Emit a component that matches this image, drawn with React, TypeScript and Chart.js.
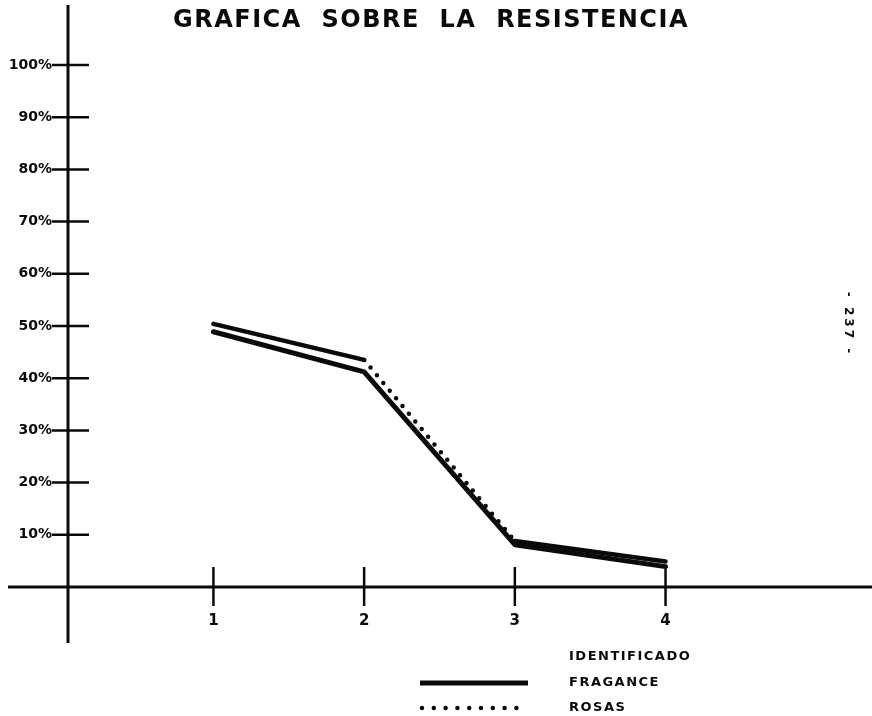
import React, { useEffect, useRef } from 'react';
import { Chart, registerables } from 'chart.js';

Chart.register(...registerables);

const TITLE = 'GRAFICA  SOBRE  LA  RESISTENCIA';
const CATEGORIES = [1, 2, 3, 4];
const Y_TICKS = [10, 20, 30, 40, 50, 60, 70, 80, 90, 100];
const FRAGANCE = [48.9, 41.2, 8.1, 3.9];
const ROSAS = [50.4, 43.5, 8.8, 4.9];
const SERIES_NAMES = ['FRAGANCE', 'ROSAS'];
const LEGEND_TITLE = 'IDENTIFICADO';
const PAGE_NOTE = '- 237 -';

const FONT = "'DejaVu Sans', sans-serif";
const INK = '#0a0a0a';

const decorPlugin = {
  id: 'decor',
  beforeDatasetsDraw(chart: any) {
    const { ctx, chartArea, scales, width } = chart;
    const xs = scales.x;
    const ys = scales.y;
    const x0 = chartArea.left;
    const y0 = ys.getPixelForValue(0);
    ctx.save();
    ctx.strokeStyle = INK;
    ctx.lineCap = 'butt';
    // axes (extended beyond chart area, like the hand drawing)
    ctx.lineWidth = 3;
    ctx.beginPath();
    ctx.moveTo(x0, 5);
    ctx.lineTo(x0, 643);
    ctx.moveTo(8, y0);
    ctx.lineTo(width, y0);
    ctx.stroke();
    // y tick marks crossing the axis
    ctx.lineWidth = 2.5;
    ctx.beginPath();
    Y_TICKS.forEach((v) => {
      const py = ys.getPixelForValue(v);
      ctx.moveTo(x0 - 16, py);
      ctx.lineTo(x0 + 21, py);
    });
    // x tick marks crossing the axis
    CATEGORIES.forEach((c) => {
      const px = xs.getPixelForValue(c);
      ctx.moveTo(px, y0 - 20);
      ctx.lineTo(px, y0 + 19);
    });
    ctx.stroke();
    ctx.restore();
  },
  afterDraw(chart: any) {
    const { ctx } = chart;
    ctx.save();
    ctx.fillStyle = INK;
    // title
    ctx.font = `bold 24px ${FONT}`;
    (ctx as any).letterSpacing = '1.5px';
    ctx.textAlign = 'center';
    ctx.textBaseline = 'middle';
    ctx.fillText(TITLE, 431, 21);

    // legend
    (ctx as any).letterSpacing = '1.5px';
    ctx.font = `bold 13px ${FONT}`;
    ctx.textAlign = 'left';
    ctx.fillText(LEGEND_TITLE, 569, 657);
    const rows = [683, 708];
    chart.data.datasets.forEach((ds: any, i: number) => {
      const y = rows[i];
      ctx.save();
      ctx.strokeStyle = ds.borderColor;
      ctx.lineWidth = i === 0 ? 5 : 4.5;
      ctx.lineCap = i === 0 ? 'butt' : 'round';
      ctx.setLineDash(i === 0 ? [] : [0, 11.8]);
      ctx.beginPath();
      ctx.moveTo(i === 0 ? 420 : 422, y);
      ctx.lineTo(528, y);
      ctx.stroke();
      ctx.restore();
      ctx.fillText(ds.label, 569, y);
    });

    // page number, written sideways
    ctx.translate(848, 324);
    ctx.rotate(Math.PI / 2);
    ctx.font = `bold 12px ${FONT}`;
    (ctx as any).letterSpacing = '3px';
    ctx.textAlign = 'center';
    ctx.fillText(PAGE_NOTE, 0, 0);
    ctx.restore();
  },
};

export default function App() {
  const ref = useRef<HTMLCanvasElement | null>(null);

  useEffect(() => {
    if (!ref.current) return;
    const chart = new Chart(ref.current, {
      type: 'line',
      data: {
        datasets: [
          {
            label: SERIES_NAMES[0],
            data: CATEGORIES.map((c, i) => ({ x: c, y: FRAGANCE[i] })),
            borderColor: INK,
            borderWidth: 5,
            borderCapStyle: 'round',
            borderJoinStyle: 'round',
            pointRadius: 0,
            tension: 0,
          },
          {
            label: SERIES_NAMES[1],
            data: CATEGORIES.map((c, i) => ({ x: c, y: ROSAS[i] })),
            borderColor: INK,
            borderWidth: 4.5,
            borderCapStyle: 'round',
            borderJoinStyle: 'round',
            borderDash: [0, 10],
            pointRadius: 0,
            tension: 0,
            segment: {
              borderDash: (c: any) => (c.p0DataIndex === 0 || c.p0DataIndex === 2 ? [] : undefined),
            },
          },
        ],
      },
      options: {
        responsive: false,
        animation: false,
        events: [],
        layout: { padding: { top: 65, left: 0, right: 0, bottom: 0 } },
        plugins: {
          legend: { display: false },
          title: { display: false },
          tooltip: { enabled: false },
        },
        scales: {
          x: {
            type: 'linear',
            min: 0.035,
            max: 5.37,
            grid: { display: false, drawTicks: false },
            border: { display: false },
            afterBuildTicks: (s: any) => {
              s.ticks = CATEGORIES.map((v) => ({ value: v }));
            },
            afterFit: (s: any) => {
              s.height = 129;
            },
            ticks: {
              padding: 25,
              maxRotation: 0,
              autoSkip: false,
              color: INK,
              font: { family: FONT, weight: 'bold', size: 15 },
              callback: (v: any) => String(v),
            },
          },
          y: {
            type: 'linear',
            min: 0,
            max: 100,
            grid: { display: false, drawTicks: false },
            border: { display: false },
            afterFit: (s: any) => {
              s.width = 68;
            },
            ticks: {
              stepSize: 10,
              padding: 16,
              color: INK,
              font: { family: FONT, weight: 'bold', size: 14 },
              callback: (v: any) => (v === 0 ? '' : `${v}%`),
            },
          },
        },
      },
      plugins: [decorPlugin],
    } as any);
    return () => chart.destroy();
  }, []);

  return (
    <div style={{ position: 'fixed', left: 0, top: 0, width: 872, height: 716, background: '#fff' }}>
      <canvas ref={ref} width={872} height={716} />
    </div>
  );
}
